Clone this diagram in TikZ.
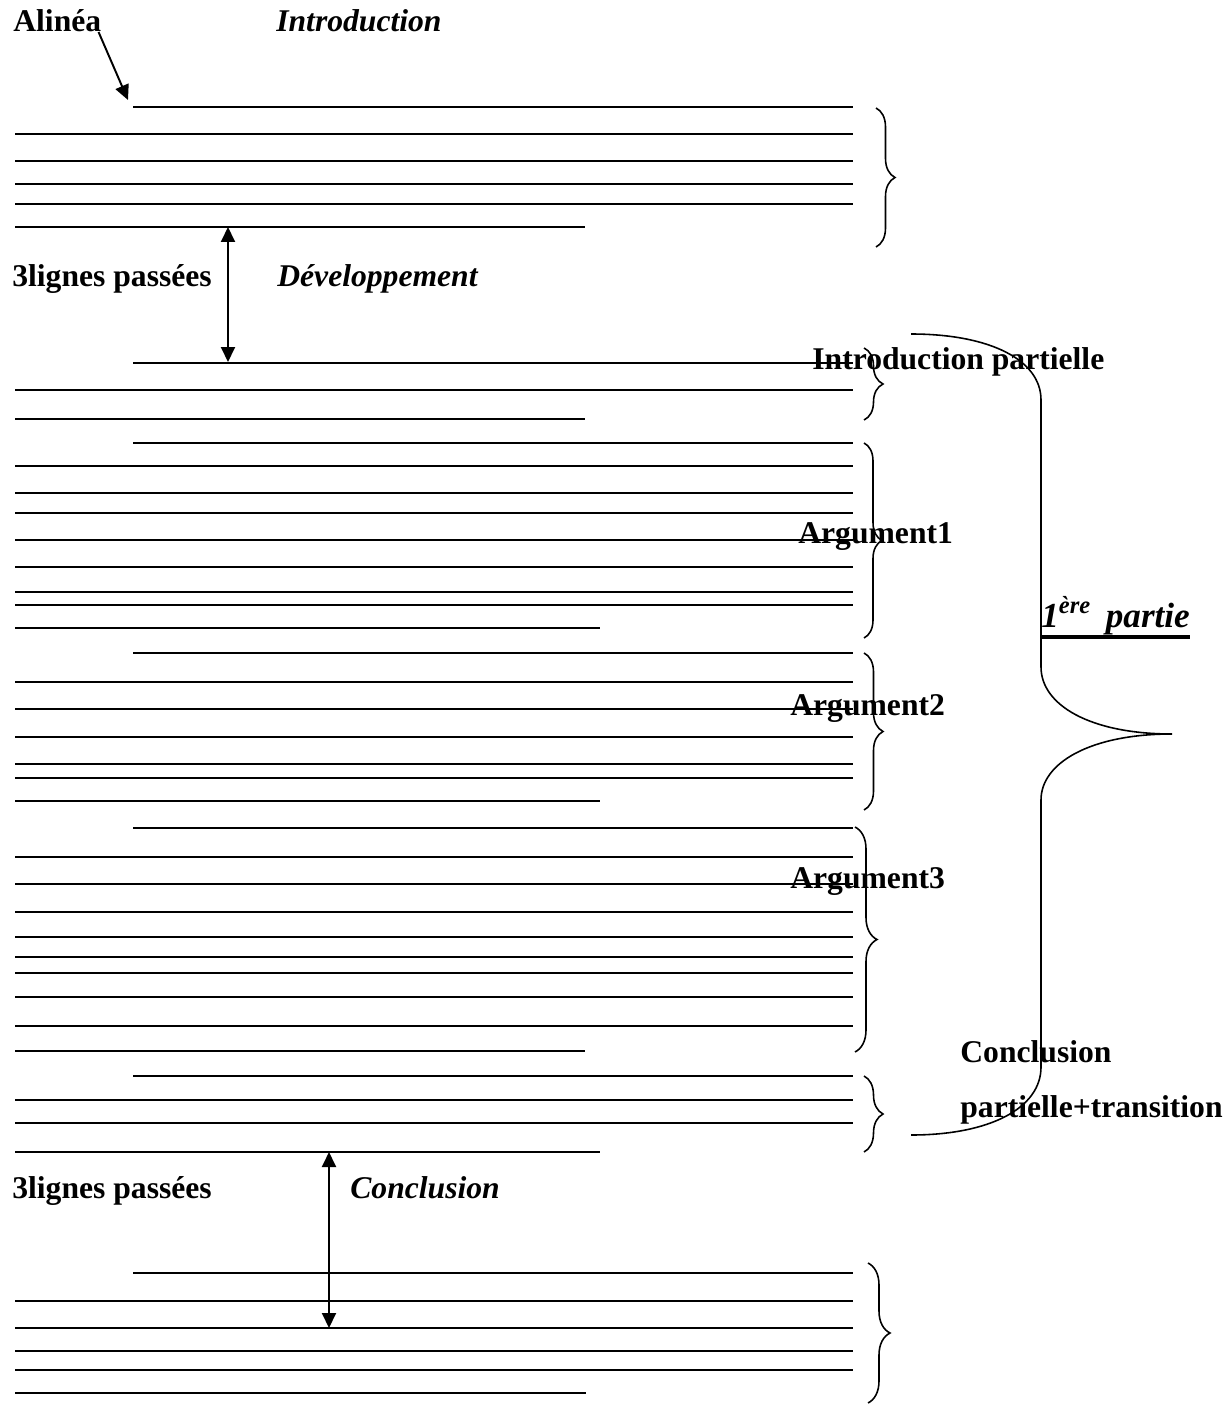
\documentclass[tikz,border=0pt]{standalone}
\usepackage{fontspec}
\setmainfont{Liberation Serif}
\usetikzlibrary{arrows.meta, decorations.pathreplacing}

\definecolor{InkBlack}{RGB}{0, 0, 0}

\tikzset{
  % Ruled line of the sheet
  ruleline/.style={
    draw=InkBlack, line width=1.2pt
  },
  % Brace grouping a block of lines
  blockbrace/.style={
    draw=InkBlack, line width=0.9pt,
    decorate, decoration={brace, amplitude=#1}
  },
  blockbrace/.default=0.38cm,
  % Large brace of the whole part
  partbrace/.style={
    draw=InkBlack, line width=0.9pt
  },
  % Bold label
  boldlabel/.style={
    font=\fontsize{18}{22}\selectfont\bfseries,
    text=InkBlack, anchor=base west, inner sep=0pt
  },
  % Bold italic title
  itlabel/.style={
    font=\fontsize{18}{22}\selectfont\bfseries\itshape,
    text=InkBlack, anchor=base west, inner sep=0pt
  },
  % Single arrow
  flowarrow/.style={
    -{Triangle[length=0.3cm, width=0.28cm]}, line width=1.1pt, color=InkBlack
  },
  % Arrow for the skipped lines
  gaparrow/.style={
    {Triangle[length=0.3cm, width=0.28cm]}-{Triangle[length=0.3cm, width=0.28cm]},
    line width=1.1pt, color=InkBlack
  }
}

\begin{document}
\begin{tikzpicture}[x=0.02cm, y=-0.02cm]

  \useasboundingbox (0,0) rectangle (1231,1405);

  % ── Introduction ─────────────────────────────────────────────────────────
  \node[boldlabel] (alinea) at (13,32) {Alinéa};
  \node[itlabel] (intro_title) at (276,32) {Introduction};

  \draw[ruleline] (133,107) -- (853,107);
  \foreach \y in {134,161,184,204}
    \draw[ruleline] (15,\y) -- (853,\y);
  \draw[ruleline] (15,227) -- (585,227);

  \draw[blockbrace] (876,108) -- (876,247);

  \coordinate (alinea_tip) at (128,100);
  \draw[flowarrow] ([xshift=-0.06cm]alinea.base east) -- (alinea_tip);

  % ── Développement ────────────────────────────────────────────────────────
  \node[boldlabel] (skip_one) at (12,287) {3lignes passées};
  \node[itlabel] (dev_title) at (277,287) {Développement};

  \coordinate (gap1_top) at (228,227);
  \coordinate (gap1_bot) at (228,362);
  \draw[gaparrow] (gap1_top) -- (gap1_bot);

  % introduction partielle
  \draw[ruleline] (133,363) -- (853,363);
  \draw[ruleline] (15,390) -- (853,390);
  \draw[ruleline] (15,419) -- (585,419);
  \draw[blockbrace] (864,348) -- (864,420);
  \node[boldlabel] (intro_part) at (812,370) {Introduction partielle};

  % argument 1
  \draw[ruleline] (133,443) -- (853,443);
  \foreach \y in {466,493,513,540,567,592,605}
    \draw[ruleline] (15,\y) -- (853,\y);
  \draw[ruleline] (15,628) -- (600,628);
  \draw[blockbrace=0.36cm] (864,443) -- (864,638);
  \node[boldlabel] (arg_one) at (798,543) {Argument1};

  % argument 2
  \draw[ruleline] (133,653) -- (853,653);
  \foreach \y in {682,709,737,764,778}
    \draw[ruleline] (15,\y) -- (853,\y);
  \draw[ruleline] (15,801) -- (600,801);
  \draw[blockbrace] (864,653) -- (864,810);
  \node[boldlabel] (arg_two) at (790,715) {Argument2};

  % argument 3
  \draw[ruleline] (133,828) -- (853,828);
  \foreach \y in {857,884,912,937,957,973,997,1026}
    \draw[ruleline] (15,\y) -- (853,\y);
  \draw[ruleline] (15,1051) -- (585,1051);
  \draw[blockbrace=0.44cm] (855,827) -- (855,1052);
  \node[boldlabel] (arg_three) at (790,888) {Argument3};

  % conclusion partielle
  \draw[ruleline] (133,1076) -- (853,1076);
  \foreach \y in {1100,1123}
    \draw[ruleline] (15,\y) -- (853,\y);
  \draw[ruleline] (15,1152) -- (600,1152);
  \draw[blockbrace] (864,1076) -- (864,1152);
  \node[boldlabel] (concl_part) at (960,1062) {Conclusion};
  \node[boldlabel] (concl_trans) at (960,1117) {partielle+transition};

  % ── 1ère partie (large brace) ────────────────────────────────────────────
  \draw[partbrace]
        (911,334) .. controls (990,334) and (1041,360) .. (1041,400)
        -- (1041,667)
        .. controls (1041,705) and (1090,734) .. (1172,734)
        .. controls (1090,734) and (1041,763) .. (1041,800)
        -- (1041,1067)
        .. controls (1041,1108) and (990,1135) .. (911,1135);
  \node[itlabel, font=\fontsize{20}{24}\selectfont\bfseries\itshape]
        (part_one) at (1041,627) {1\textsuperscript{ère}\, partie};
  \draw[line width=1.8pt] ([yshift=-0.2cm]part_one.base west)
        -- ([yshift=-0.2cm]part_one.base east);

  % ── Conclusion ───────────────────────────────────────────────────────────
  \node[boldlabel] (skip_two) at (12,1198) {3lignes passées};
  \node[itlabel] (concl_title) at (350,1198) {Conclusion};

  \coordinate (gap2_top) at (329,1152);
  \coordinate (gap2_bot) at (329,1328);
  \draw[gaparrow] (gap2_top) -- (gap2_bot);

  \draw[ruleline] (133,1273) -- (853,1273);
  \foreach \y in {1301,1328,1351,1370}
    \draw[ruleline] (15,\y) -- (853,\y);
  \draw[ruleline] (15,1393) -- (586,1393);
  \draw[blockbrace=0.44cm] (868,1263) -- (868,1403);

\end{tikzpicture}
\end{document}
